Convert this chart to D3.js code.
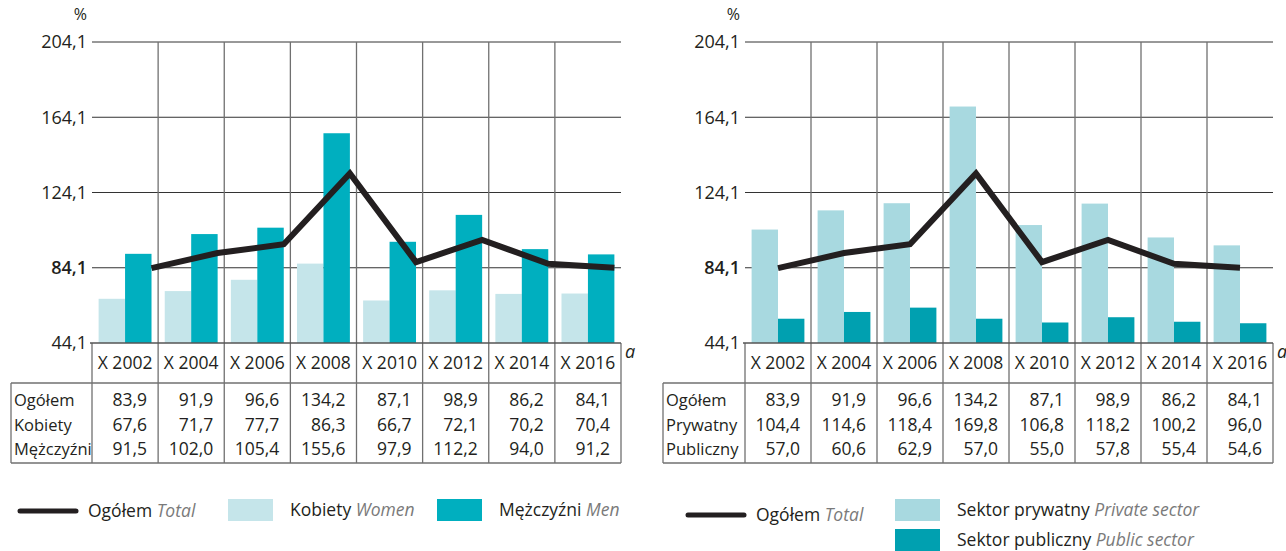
<!DOCTYPE html>
<html>
<head>
<meta charset="utf-8">
<script src="https://cdn.jsdelivr.net/npm/d3@7"></script>
<style>
  body { margin: 0; background: #fff; }
  text { font-family: 'Open Sans', sans-serif; fill: #231f20; }
</style>
</head>
<body>
<div id="chart"></div>
<script>
const width = 1286
const height = 551

const years = ['X 2002', 'X 2004', 'X 2006', 'X 2008', 'X 2010', 'X 2012', 'X 2014', 'X 2016']
const yTicks = [44.1, 84.1, 124.1, 164.1, 204.1]

const total = [83.9, 91.9, 96.6, 134.2, 87.1, 98.9, 86.2, 84.1]
const women = [67.6, 71.7, 77.7, 86.3, 66.7, 72.1, 70.2, 70.4]
const men = [91.5, 102.0, 105.4, 155.6, 97.9, 112.2, 94.0, 91.2]
const privateSector = [104.4, 114.6, 118.4, 169.8, 106.8, 118.2, 100.2, 96.0]
const publicSector = [57.0, 60.6, 62.9, 57.0, 55.0, 57.8, 55.4, 54.6]

const fmt = (v) => v.toFixed(1).replace('.', ',')

const svg = d3.select('#chart')
  .append('svg')
  .attr('width', width)
  .attr('height', height)

function drawPanel (p) {
  const g = svg.append('g')
  const x = d3.scaleBand().domain(years).range([p.left, p.right])
  const y = d3.scaleLinear().domain([44.1, 204.1]).range([343, 42])
  const sub = d3.scaleBand().domain(['a', 'b']).range([0, x.bandwidth()]).paddingOuter(0.25)
  const tableTop = 383
  const tableBottom = 463
  const rowY = [406, 431, 455]

  // horizontal grid
  g.selectAll('line.hgrid')
    .data(yTicks.slice(1))
    .enter()
    .append('line')
    .attr('x1', p.left)
    .attr('x2', p.right)
    .attr('y1', (d) => y(d))
    .attr('y2', (d) => y(d))
    .attr('stroke', '#333')
    .attr('stroke-width', 1)

  // y tick labels
  g.selectAll('text.ytick')
    .data(yTicks)
    .enter()
    .append('text')
    .attr('x', p.left - 5)
    .attr('y', (d) => y(d))
    .attr('dy', '0.35em')
    .attr('text-anchor', 'end')
    .attr('font-size', 18)
    .attr('font-weight', (d) => d === 84.1 ? 600 : 400)
    .text(fmt)

  g.append('text')
    .attr('x', p.left - 5)
    .attr('y', 20)
    .attr('text-anchor', 'end')
    .attr('font-size', 16)
    .text('%')

  // bars
  const bars = g.selectAll('g.grp')
    .data(years)
    .enter()
    .append('g')
    .attr('transform', (d) => `translate(${x(d)},0)`)

  bars.append('rect')
    .attr('x', sub('a'))
    .attr('width', sub.bandwidth())
    .attr('y', (d, i) => y(p.series1[i]))
    .attr('height', (d, i) => y(44.1) - y(p.series1[i]))
    .attr('fill', p.color1)

  bars.append('rect')
    .attr('x', sub('b'))
    .attr('width', sub.bandwidth())
    .attr('y', (d, i) => y(p.series2[i]))
    .attr('height', (d, i) => y(44.1) - y(p.series2[i]))
    .attr('fill', p.color2)

  // vertical grid (inner)
  g.selectAll('line.vgrid')
    .data(years.slice(1))
    .enter()
    .append('line')
    .attr('x1', (d) => x(d))
    .attr('x2', (d) => x(d))
    .attr('y1', y(204.1))
    .attr('y2', tableBottom)
    .attr('stroke', '#707070')
    .attr('stroke-width', 1.3)

  // outer table verticals
  g.selectAll('line.vout')
    .data([p.left, p.right])
    .enter()
    .append('line')
    .attr('x1', (d) => d)
    .attr('x2', (d) => d)
    .attr('y1', y(44.1))
    .attr('y2', tableBottom)
    .attr('stroke', '#707070')
    .attr('stroke-width', 1.3)

  g.append('line')
    .attr('x1', p.tableLeft)
    .attr('x2', p.tableLeft)
    .attr('y1', tableTop)
    .attr('y2', tableBottom)
    .attr('stroke', '#707070')
    .attr('stroke-width', 1.3)

  // table horizontals
  g.append('line')
    .attr('x1', p.left - 2).attr('x2', p.right)
    .attr('y1', y(44.1)).attr('y2', y(44.1))
    .attr('stroke', '#555').attr('stroke-width', 1.3)
  g.selectAll('line.trow')
    .data([tableTop, tableBottom])
    .enter()
    .append('line')
    .attr('x1', p.tableLeft).attr('x2', p.right)
    .attr('y1', (d) => d).attr('y2', (d) => d)
    .attr('stroke', '#707070').attr('stroke-width', 1.3)

  // header labels
  g.selectAll('text.year')
    .data(years)
    .enter()
    .append('text')
    .attr('x', (d) => x(d) + x.bandwidth() / 2)
    .attr('y', 363)
    .attr('dy', '0.35em')
    .attr('text-anchor', 'middle')
    .attr('font-size', 17.5)
    .text((d) => d)

  g.append('text')
    .attr('x', p.right + 4)
    .attr('y', 358)
    .attr('font-size', 18)
    .attr('font-style', 'italic')
    .text('a')

  // table rows
  const rows = [
    { label: 'Ogółem', values: total },
    { label: p.label1, values: p.series1 },
    { label: p.label2, values: p.series2 }
  ]
  rows.forEach((r, ri) => {
    g.append('text')
      .attr('x', p.tableLeft + 3)
      .attr('y', rowY[ri])
      .attr('font-size', 16.5)
      .text(r.label)
    g.selectAll(null)
      .data(r.values)
      .enter()
      .append('text')
      .attr('x', (d, i) => x(years[i]) + x.bandwidth() - 11)
      .attr('y', rowY[ri])
      .attr('text-anchor', 'end')
      .attr('font-size', 17.5)
      .text(fmt)
  })

  // total line
  const line = d3.line()
    .x((d, i) => x(years[i]) + p.lineOffset(sub))
    .y((d) => y(d))
  g.append('path')
    .datum(total)
    .attr('d', line)
    .attr('fill', 'none')
    .attr('stroke', '#231f20')
    .attr('stroke-width', 6)
    .attr('stroke-linejoin', 'miter')

  // legend
  const lg = g.append('g')
  lg.append('line')
    .attr('x1', p.legend.lineX).attr('x2', p.legend.lineX + 56)
    .attr('y1', p.legend.lineY).attr('y2', p.legend.lineY)
    .attr('stroke', '#231f20').attr('stroke-width', 5).attr('stroke-linecap', 'round')
  const lt = lg.append('text')
    .attr('x', p.legend.lineX + 68)
    .attr('y', p.legend.lineY + 6)
    .attr('font-size', 17.5)
  lt.append('tspan').text('Ogółem ')
  lt.append('tspan').attr('font-style', 'italic').style('fill', '#7a7a7a').text('Total')

  p.legend.boxes.forEach((b) => {
    lg.append('rect')
      .attr('x', b.x).attr('y', b.y)
      .attr('width', 45).attr('height', 22)
      .attr('fill', b.color)
    const t = lg.append('text')
      .attr('x', b.x + 62)
      .attr('y', b.y + 17)
      .attr('font-size', 17.5)
    t.append('tspan').text(b.pl + ' ')
    t.append('tspan').attr('font-style', 'italic').style('fill', '#7a7a7a').text(b.en)
  })
}

drawPanel({
  left: 92,
  right: 621,
  tableLeft: 11,
  series1: women,
  series2: men,
  label1: 'Kobiety',
  label2: 'Mężczyźni',
  color1: '#c5e5ea',
  color2: '#00afbf',
  lineOffset: (sub) => sub('b') + sub.bandwidth(),
  legend: {
    lineX: 20,
    lineY: 511,
    boxes: [
      { x: 228, y: 499, color: '#c5e5ea', pl: 'Kobiety', en: 'Women' },
      { x: 437, y: 499, color: '#00afbf', pl: 'Mężczyźni', en: 'Men' }
    ]
  }
})

drawPanel({
  left: 745,
  right: 1273,
  tableLeft: 663,
  series1: privateSector,
  series2: publicSector,
  label1: 'Prywatny',
  label2: 'Publiczny',
  color1: '#a8d9e0',
  color2: '#00a0b0',
  lineOffset: (sub) => sub('b'),
  legend: {
    lineX: 688,
    lineY: 515,
    boxes: [
      { x: 895, y: 499, color: '#a8d9e0', pl: 'Sektor prywatny', en: 'Private sector' },
      { x: 895, y: 529, color: '#00a0b0', pl: 'Sektor publiczny', en: 'Public sector' }
    ]
  }
})
</script>
</body>
</html>
